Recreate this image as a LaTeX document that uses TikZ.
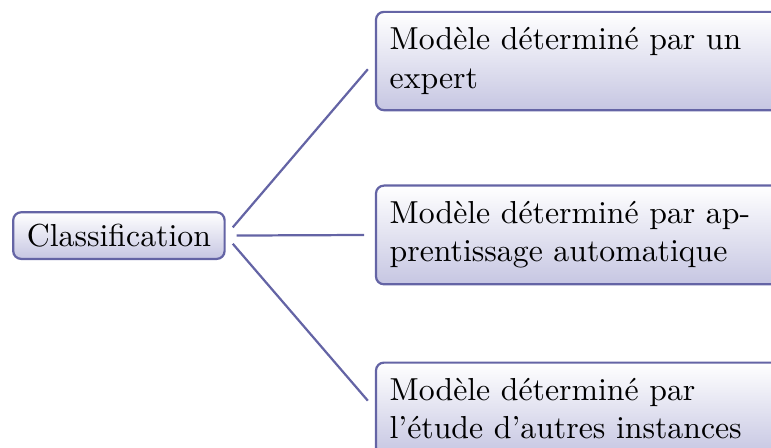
\documentclass[tikz,border=0pt]{standalone}
\usepackage{tikz}
\definecolor{lignebleu}{RGB}{100,100,165}
\definecolor{fondbleu}{RGB}{198,198,226}

\begin{document}
\begin{tikzpicture}[x=1pt,y=1pt,
		boite/.style={draw=lignebleu, line width=0.7pt, rounded corners=2.5pt, top color=white, bottom color=fondbleu, inner xsep=4.3pt, inner ysep=3.7pt},
		feuille/.style={boite, text width=120pt, align=left, anchor=west, inner ysep=5pt},
		lien/.style={draw=lignebleu, line width=0.7pt, shorten <=3.4pt, shorten >=3.4pt}]
		
		\useasboundingbox (0,0) rectangle (242.5,-140.9);
		
		\node[boite] (classif) at (37.4,-74.1) {Classification};
		
		\node[feuille] (expert) at (117.9,-19.2) {Modèle déterminé par un expert};
		\node[feuille] (apprent) at (117.9,-73.9) {Modèle déterminé par apprentissage automatique};
		\node[feuille] (instances) at (117.9,-128.6) {Modèle déterminé par l’étude d’autres instances};
		
		\foreach \f in {expert,apprent,instances}
			\draw[lien] (classif.east) -- (\f.west);
	\end{tikzpicture}
\end{document}
